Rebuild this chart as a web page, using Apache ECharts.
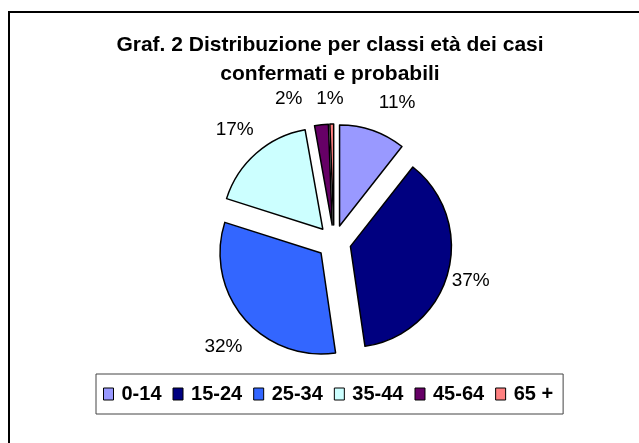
<!DOCTYPE html>
<html>
<head>
<meta charset="utf-8">
<script src="https://cdn.jsdelivr.net/npm/echarts@6/dist/echarts.min.js"></script>
<style>
html,body{margin:0;padding:0;background:#fff;}
#chart{width:639px;height:443px;}
</style>
</head>
<body>
<div id="chart"></div>
<script>
const titleLines = ["Graf. 2 Distribuzione per classi età dei casi", "confermati e probabili"];
const categories = ["0-14", "15-24", "25-34", "35-44", "45-64", "65 +"];
const values = [10.6, 37.1, 32.2, 17.3, 2.2, 0.6];
const colors = ["#9999FF", "#000080", "#3366FF", "#CCFFFF", "#660066", "#FF8080"];
// label nudges (layout only), in px
const labelNudges = [[-2, -18], [-11, 6], [11, 22], [9, -16], [-13, -16], [17, -15]];

const chart = echarts.init(document.getElementById('chart'), null, {renderer: 'canvas'});
const data = categories.map((c, i) => ({
  name: c,
  value: values[i],
  selected: true,
  itemStyle: {color: colors[i]}
}));
const font = '"Liberation Sans", Arial, sans-serif';
chart.setOption({
  animation: false,
  backgroundColor: '#fff',
  graphic: [{
    type: 'rect',
    shape: {x: 9, y: 12, width: 700, height: 500},
    style: {fill: 'none', stroke: '#000', lineWidth: 2},
    silent: true
  }],
  title: {
    text: titleLines.join('\n'),
    left: 325,
    textAlign: 'center',
    top: 26,
    textStyle: {fontFamily: font, fontSize: 21, fontWeight: 'bold', color: '#000', lineHeight: 29}
  },
  legend: {
    data: categories,
    left: 96,
    top: 374,
    orient: 'horizontal',
    icon: 'rect',
    itemWidth: 10,
    itemHeight: 12,
    itemGap: 11,
    padding: [10, 10, 10, 7],
    borderColor: '#444',
    borderWidth: 1,
    selectedMode: false,
    itemStyle: {borderColor: '#000', borderWidth: 1},
    textStyle: {fontFamily: font, fontSize: 20, fontWeight: 'bold', color: '#000', padding: [0, 0, 0, 3]}
  },
  series: [{
    type: 'pie',
    center: [334, 242],
    radius: [0, 101],
    startAngle: 90,
    clockwise: true,
    selectedMode: 'multiple',
    selectedOffset: 17,
    avoidLabelOverlap: false,
    data: data,
    itemStyle: {borderColor: '#000', borderWidth: 1.5},
    select: {itemStyle: {borderColor: '#000', borderWidth: 1.5}},
    emphasis: {disabled: true},
    label: {
      show: true,
      position: 'outside',
      formatter: p => Math.round(p.value) + '%',
      fontFamily: font,
      fontSize: 19,
      color: '#000'
    },
    labelLine: {show: false, length: 10, length2: 0},
    labelLayout: p => ({
      hideOverlap: false,
      dx: labelNudges[p.dataIndex][0],
      dy: labelNudges[p.dataIndex][1]
    })
  }]
});
</script>
</body>
</html>
